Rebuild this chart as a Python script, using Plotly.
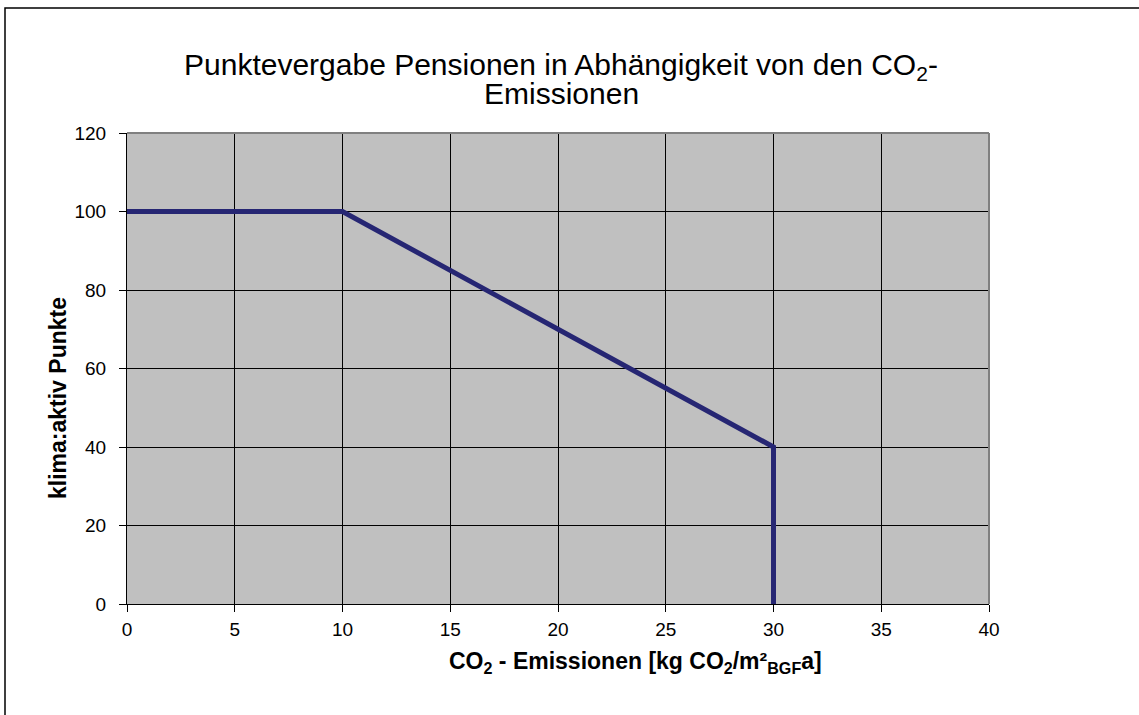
import plotly.graph_objects as go

emissions = [0, 10, 30, 30]
points = [100, 100, 40, 0]
x_ticks = [0, 5, 10, 15, 20, 25, 30, 35, 40]
y_ticks = [0, 20, 40, 60, 80, 100, 120]

W, H = 1139, 715
L, R, T, B = 127, 150, 133, 111
pw, ph = W - L - R, H - T - B

def px_x(p):
    return (p - L) / pw

def px_y(p):
    return (H - B - p) / ph

fig = go.Figure()
fig.add_trace(go.Scatter(x=emissions, y=points, mode="lines",
                         line=dict(color="#262673", width=5), showlegend=False,
                         hoverinfo="skip"))

font = "Liberation Sans, Arial, sans-serif"
fig.update_layout(
    width=W, height=H,
    margin=dict(l=L, r=R, t=T, b=B),
    paper_bgcolor="white", plot_bgcolor="#C0C0C0",
    font=dict(family=font, size=19, color="black"),
    xaxis=dict(range=[0, 40], tickvals=x_ticks, showgrid=True, gridcolor="black",
               gridwidth=1, zeroline=False, showline=True, linecolor="black", linewidth=1,
               ticks="outside", ticklen=7, tickcolor="black", tickfont=dict(size=19),
               ticklabelstandoff=1),
    yaxis=dict(range=[0, 120], tickvals=y_ticks, showgrid=True, gridcolor="black",
               gridwidth=1, zeroline=False, showline=True, linecolor="black", linewidth=1,
               ticks="outside", ticklen=7, tickcolor="black", tickfont=dict(size=19),
               ticklabelstandoff=9),
)

# gray top/right plot borders
fig.add_shape(type="line", xref="paper", yref="paper", x0=0, x1=1, y0=1, y1=1,
              line=dict(color="#808080", width=2), layer="above")
fig.add_shape(type="line", xref="paper", yref="paper", x0=1, x1=1, y0=0, y1=1,
              line=dict(color="#808080", width=2), layer="above")

# outer chart border (extends beyond the right/bottom of the image)
fig.add_shape(type="rect", xref="paper", yref="paper",
              x0=px_x(5), x1=px_x(1150), y0=px_y(730), y1=px_y(8),
              line=dict(color="black", width=1.5), layer="above")

# title (two centred lines, tight line spacing as in the reference)
fig.add_annotation(text="Punktevergabe Pensionen in Abhängigkeit von den CO<sub>2</sub>-",
                   xref="paper", yref="paper", x=px_x(561), y=px_y(66),
                   xanchor="center", yanchor="middle", showarrow=False,
                   font=dict(size=30, family=font))
fig.add_annotation(text="Emissionen",
                   xref="paper", yref="paper", x=px_x(561), y=px_y(93),
                   xanchor="center", yanchor="middle", showarrow=False,
                   font=dict(size=30, family=font))

# axis titles
fig.add_annotation(text="<b>CO<sub>2</sub> - Emissionen [kg CO<sub>2</sub>/m²<sub>BGF</sub>a]</b>",
                   xref="paper", yref="paper", x=px_x(635), y=px_y(662),
                   xanchor="center", yanchor="middle", showarrow=False,
                   font=dict(size=23, family=font))
fig.add_annotation(text="<b>klima:aktiv Punkte</b>",
                   xref="paper", yref="paper", x=px_x(58), y=px_y(398),
                   xanchor="center", yanchor="middle", showarrow=False, textangle=-90,
                   font=dict(size=23, family=font))

fig.write_html("out.html", post_script="document.body.style.margin='0';",
               config={"displayModeBar": False})
